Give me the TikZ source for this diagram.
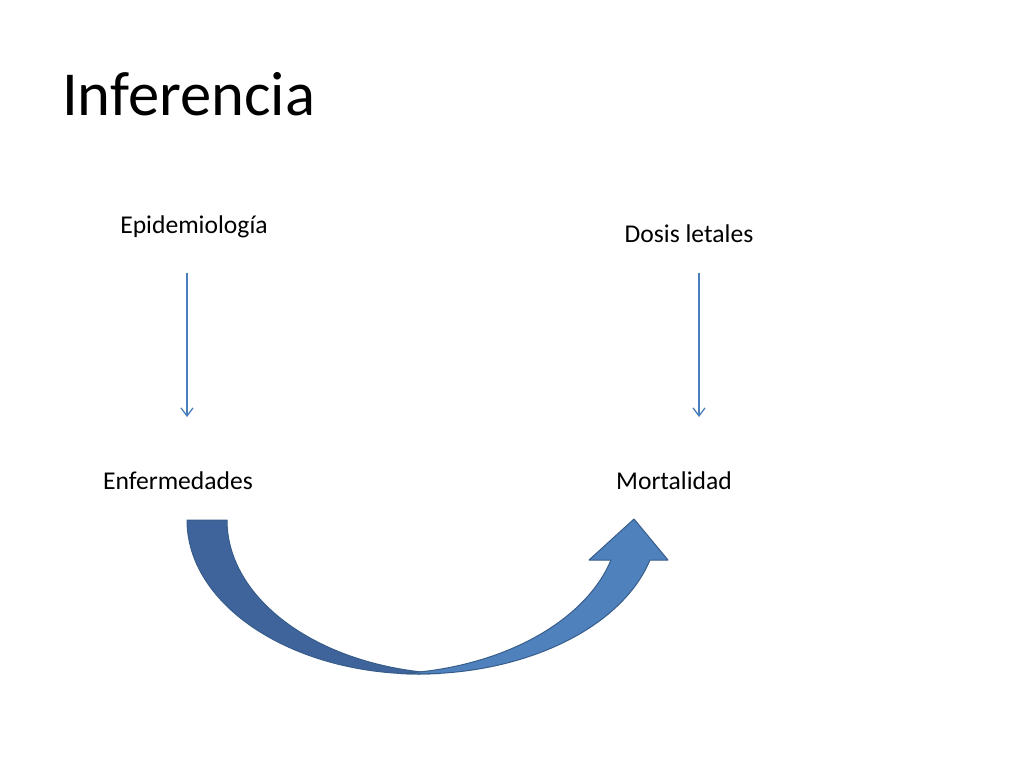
\documentclass[tikz,border=0pt]{standalone}
\usepackage{fontspec}
\setmainfont{Carlito}
\usetikzlibrary{arrows.meta}
\definecolor{darkband}{HTML}{3F649B}
\definecolor{lightband}{HTML}{4F81BD}
\definecolor{bandline}{HTML}{385D8A}
\definecolor{thinarrow}{HTML}{4A7EBB}
\begin{document}
\begin{tikzpicture}[x=1pt,y=-1pt,
  label/.style={inner sep=0pt,anchor=base,font=\fontsize{25.6}{30}\selectfont},
  thin arrow/.style={draw=thinarrow,line width=1.3pt,-{Straight Barb[length=8pt,width=12pt,line width=1.3pt]}},
  band/.style={draw=bandline,line width=1pt,line join=round}]
\fill[white] (0,0) rectangle (1024,768);
\useasboundingbox (0,0) rectangle (1024,768);

\node[inner sep=0pt,anchor=base west,font=\fontsize{62.6}{70}\selectfont] (title) at (62,115) {Inferencia};

\node[label] (epi) at (194,233) {Epidemiología};
\node[label] (dosis) at (689,242) {Dosis letales};
\node[label] (enf) at (178,489) {Enfermedades};
\node[label] (mort) at (674,489) {Mortalidad};

\coordinate (a1s) at (187,273);
\coordinate (a1e) at (187,417);
\coordinate (a2s) at (699,273);
\coordinate (a2e) at (699,417);
\draw[thin arrow] (a1s) -- (a1e);
\draw[thin arrow] (a2s) -- (a2e);

% dark back band
\draw[band,fill=darkband] (187,520) .. controls (187,605) and (291.4,674) .. (420,674)
  -- (440,673.5) .. controls (319.5,666.7) and (227,600) .. (227,520) -- cycle;
% light front shaft with head
\draw[band,fill=lightband] (400.5,673.5) .. controls (514.5,679) and (619.9,631.7) .. (650,560)
  -- (668,560) -- (634,519) -- (589,560) -- (611,560)
  .. controls (584.8,622.5) and (500.2,668.2) .. (400.5,673.5) -- cycle;
\end{tikzpicture}
\end{document}
